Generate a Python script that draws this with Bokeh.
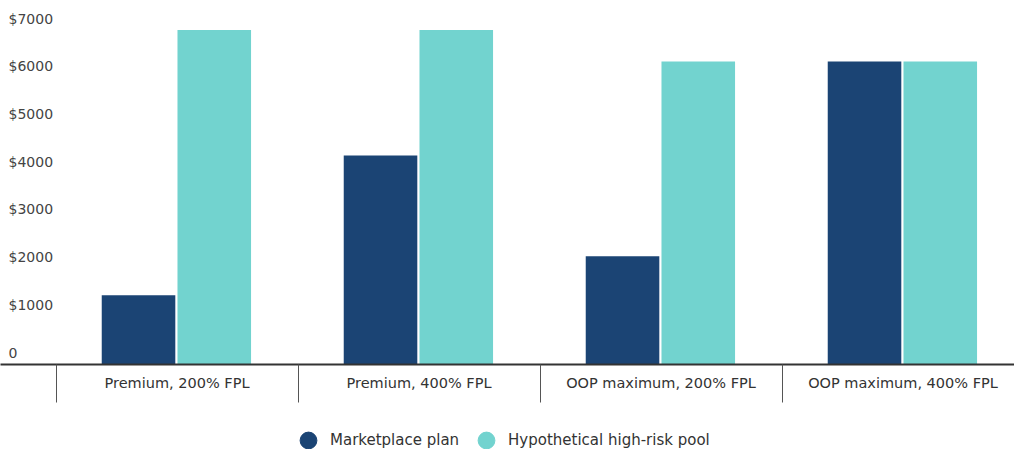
from bokeh.plotting import figure
from bokeh.layouts import column
from bokeh.models import Range1d, FixedTicker, Legend, LegendItem, ColumnDataSource
from bokeh.transform import dodge
from bokeh.core.properties import value
from bokeh.embed import file_html
from bokeh.resources import INLINE

# ---- data ----
categories = ["Premium, 200% FPL", "Premium, 400% FPL",
              "OOP maximum, 200% FPL", "OOP maximum, 400% FPL"]
series_names = ["Marketplace plan", "Hypothetical high-risk pool"]
marketplace = [1450, 4380, 2270, 6350]
high_risk_pool = [7010, 7010, 6350, 6350]
y_ticks = [0, 1000, 2000, 3000, 4000, 5000, 6000, 7000]
y_tick_labels = ["0", "$1000", "$2000", "$3000", "$4000", "$5000", "$6000", "$7000"]

# ---- style ----
DARK = "#1b4474"
TEAL = "#72d3cf"
FONT = "DejaVu Sans"

W = 1014
H_MAIN = 410
H_LEG = 39
CAT_PX = 242.0
x_start = -176.5 / CAT_PX
x_end = x_start + W / CAT_PX

p = figure(width=W, height=H_MAIN,
           x_range=Range1d(x_start, x_end), y_range=Range1d(0, 7629),
           output_backend="svg", toolbar_location=None,
           min_border_left=0, min_border_right=0, min_border_top=0,
           min_border_bottom=H_MAIN - 364)
p.outline_line_color = None
p.xgrid.visible = False
p.ygrid.visible = False
p.background_fill_color = "white"
p.border_fill_color = "white"

idx = list(range(len(categories)))
src = ColumnDataSource(dict(idx=idx, cat=categories, m=marketplace, h=high_risk_pool))

p.vbar(x=dodge("idx", -0.159), top="m", width=0.304, source=src,
       fill_color=DARK, line_color=None)
p.vbar(x=dodge("idx", 0.154), top="h", width=0.304, source=src,
       fill_color=TEAL, line_color=None)

# y labels (drawn above their value positions)
p.text(x=[x_start] * len(y_ticks), y=y_ticks, text=y_tick_labels,
       text_align="left", text_baseline="middle", x_offset=8, y_offset=-12,
       text_font=value(FONT), text_font_size="14px", text_color="#444444")
p.yaxis.visible = False

# x axis: labels at category centres, separators at boundaries
p.xaxis.ticker = FixedTicker(ticks=idx, minor_ticks=[i - 0.5 for i in range(len(categories) + 1)])
p.xaxis.major_label_overrides = {i: c for i, c in enumerate(categories)}
p.xaxis.major_tick_line_color = None
p.xaxis.major_tick_out = 0
p.xaxis.major_tick_in = 0
p.xaxis.minor_tick_out = 0
p.xaxis.minor_tick_in = -38
p.xaxis.minor_tick_line_color = "#555555"
p.xaxis.minor_tick_line_width = 1
p.xaxis.axis_line_color = "#333333"
p.xaxis.axis_line_width = 2
p.xaxis.major_label_text_font = FONT
p.xaxis.major_label_text_font_size = "14.5px"
p.xaxis.major_label_text_color = "#333333"
p.xaxis.major_label_standoff = 10

# legend strip below the chart
q = figure(width=W, height=H_LEG, x_range=Range1d(0, 1), y_range=Range1d(0, 1),
           output_backend="svg", toolbar_location=None,
           min_border=0, min_border_left=0, min_border_right=0,
           min_border_top=0, min_border_bottom=0)
q.axis.visible = False
q.grid.visible = False
q.outline_line_color = None
q.background_fill_color = "white"
q.border_fill_color = "white"
nan = float("nan")
r1 = q.scatter(x=[nan], y=[nan], marker="circle", size=17, color=DARK)
r2 = q.scatter(x=[nan], y=[nan], marker="circle", size=17, color=TEAL)
legend = Legend(items=[LegendItem(label=series_names[0], renderers=[r1]),
                       LegendItem(label=series_names[1], renderers=[r2])],
                location=(287, -12), orientation="horizontal",
                glyph_width=42, glyph_height=42, label_standoff=1, spacing=6,
                padding=0, margin=0, border_line_color=None,
                background_fill_alpha=0,
                label_text_font=FONT, label_text_font_size="15px",
                label_text_color="#333333")
q.add_layout(legend)

layout = column(p, q, spacing=0)
open("out.html", "w").write(file_html(layout, INLINE))
